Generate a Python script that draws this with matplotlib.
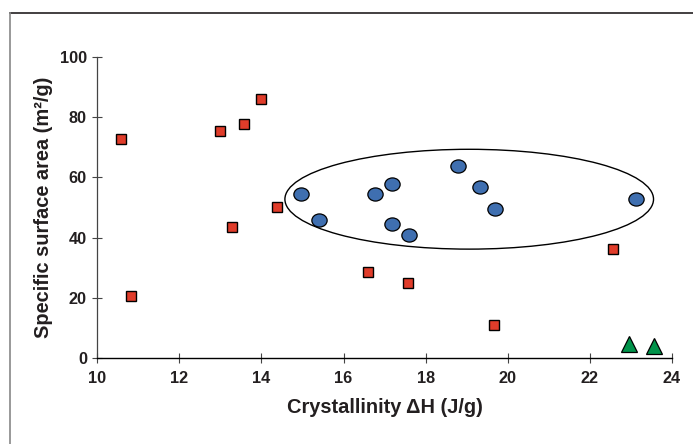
import matplotlib
matplotlib.use("Agg")
import matplotlib.pyplot as plt
from matplotlib.patches import Ellipse
from matplotlib.path import Path
from matplotlib.transforms import Affine2D
from matplotlib.lines import Line2D

plt.rcParams['font.family'] = ['Liberation Sans', 'DejaVu Sans']

# Data
sq_x = [10.58, 10.82, 12.99, 13.58, 13.99, 13.28, 14.38, 16.59, 17.58, 19.67, 22.57]
sq_y = [72.6, 20.8, 75.4, 77.8, 86.1, 43.6, 50.2, 28.5, 25.0, 11.0, 36.2]
ci_x = [14.97, 15.39, 16.77, 17.19, 17.19, 17.60, 18.78, 19.33, 19.68, 23.13]
ci_y = [54.5, 46.0, 54.5, 57.8, 44.4, 41.0, 63.7, 56.9, 49.4, 52.7]
tr_x = [22.96, 23.55]
tr_y = [4.6, 4.1]
x_ticks = [10, 12, 14, 16, 18, 20, 22, 24]
y_ticks = [0, 20, 40, 60, 80, 100]

txt = '#231f20'
fig = plt.figure(figsize=(6.93, 4.44), dpi=100)
ax = fig.add_axes([0.1404, 0.193, 0.8293, 0.6793])

oval = Path.unit_circle().transformed(Affine2D().scale(1.0, 0.86))

ax.plot(sq_x, sq_y, linestyle='none', marker='s', markersize=7.9,
        markerfacecolor='#e03c2a', markeredgecolor='black', markeredgewidth=1.0, zorder=3)
ax.plot(ci_x, ci_y, linestyle='none', marker=oval, markersize=11,
        markerfacecolor='#3f6fb0', markeredgecolor='black', markeredgewidth=0.9, zorder=3)
ax.plot(tr_x, tr_y, linestyle='none', marker='^', markersize=11,
        markerfacecolor='#00934a', markeredgecolor='black', markeredgewidth=0.9, zorder=3,
        clip_on=False)

ell = Ellipse((19.06, 52.75), 8.98, 33.1, fill=False, edgecolor='black', linewidth=1.0, zorder=2)
ax.add_patch(ell)

ax.set_xlim(10, 24)
ax.set_ylim(0, 100)
ax.set_xticks(x_ticks)
ax.set_yticks(y_ticks)
ax.set_xticklabels([str(v) for v in x_ticks], fontsize=11.7, fontweight='bold', color=txt)
ax.set_yticklabels([str(v) for v in y_ticks], fontsize=11.7, fontweight='bold', color=txt)
ax.tick_params(direction='inout', length=7, width=0.8, color='#444444')
ax.tick_params(axis='x', pad=5.5)
ax.tick_params(axis='y', pad=4)
for s in ['top', 'right']:
    ax.spines[s].set_visible(False)
ax.spines['left'].set_color('#444444')
ax.spines['bottom'].set_color('black')
ax.spines['left'].set_linewidth(0.9)
ax.spines['bottom'].set_linewidth(1.0)

ax.set_xlabel('Crystallinity \u0394H (J/g)', fontsize=14.4, fontweight='bold', color=txt, labelpad=9)
ax.set_ylabel('Specific surface area (m\u00b2/g)', fontsize=14.4, fontweight='bold', color=txt, labelpad=5)

# outer frame lines (top and left)
fig.add_artist(Line2D([9.5/693, 1.0], [1 - 13.5/444, 1 - 13.5/444], color='#231f20', linewidth=1.2, transform=fig.transFigure))
fig.add_artist(Line2D([9.5/693, 9.5/693], [0, 1 - 13.5/444], color='#888888', linewidth=1.2, transform=fig.transFigure))

fig.savefig('out.png', dpi=100)
